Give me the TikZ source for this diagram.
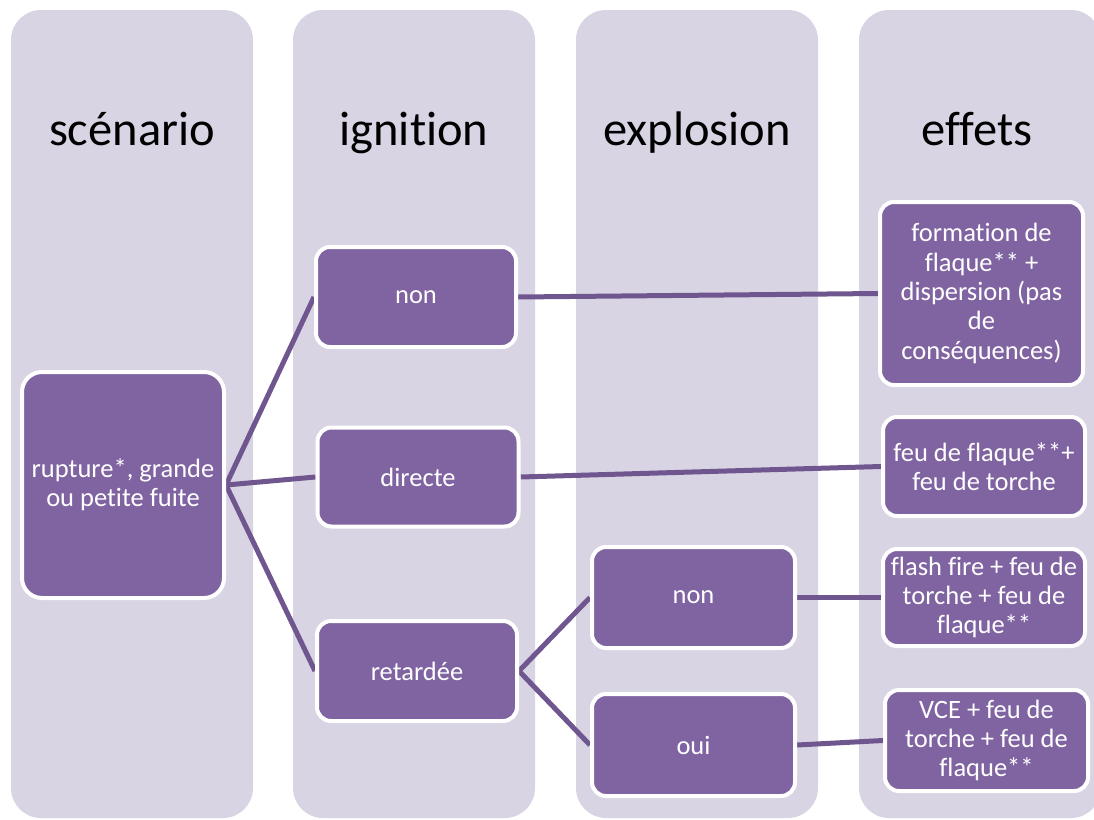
\documentclass[tikz,border=0pt]{standalone}
\usepackage{fontspec}
\setmainfont{Carlito}[Ligatures=CommonOff]
\definecolor{lanefill}{HTML}{D8D4E3}
\definecolor{boxfill}{HTML}{8064A2}
\definecolor{linkcol}{HTML}{70568F}
\pgfdeclarelayer{lanes}
\pgfdeclarelayer{links}
\pgfsetlayers{lanes,links,main}
\begin{document}
\begin{tikzpicture}[x=1pt,y=-1pt,
  lane/.style={fill=lanefill, rounded corners=30pt},
  head/.style={anchor=base, font=\fontsize{48.5}{56}\selectfont, text=black},
  box/.style={draw=white, line width=4pt, fill=boxfill, rounded corners=14pt,
    text=white, font=\fontsize{26.5}{29.3}\selectfont, align=center, inner sep=0pt},
  link/.style={draw=linkcol, line width=5pt}]
\useasboundingbox (0,0) rectangle (1094,819);

% columns
\begin{pgfonlayer}{lanes}
  \fill[lane] (11,10) rectangle (253,818);
  \fill[lane] (293,10) rectangle (535,818);
  \fill[lane] (576,10) rectangle (818,818);
  \fill[lane] (859,10) rectangle (1101,818);
\end{pgfonlayer}

% column headings
\node[head] (h1) at (132,145) {scénario};
\node[head] (h2) at (414,145) {ignition};
\node[head] (h3) at (697,145) {explosion};
\node[head] (h4) at (977,145) {effets};

% boxes
\node[box, minimum width=202pt, minimum height=226pt, rounded corners=20pt] (root) at (123,485)
  {rupture*, grande\\ou petite fuite};
\node[box, minimum width=200pt, minimum height=100pt] (ign1) at (416,297) {non};
\node[box, minimum width=201pt, minimum height=99pt] (ign2) at (418,477) {directe};
\node[box, minimum width=200pt, minimum height=100pt] (ign3) at (417,671) {retardée};
\node[box, minimum width=203pt, minimum height=101pt] (exp1) at (693.5,597.5) {non};
\node[box, minimum width=203pt, minimum height=102pt] (exp2) at (693.5,745) {oui};
\node[box, minimum width=203pt, minimum height=183pt] (eff1) at (981.5,293.5)
  {formation de\\flaque** +\\dispersion (pas\\de\\conséquences)};
\node[box, minimum width=202pt, minimum height=99pt] (eff2) at (984,466.5)
  {feu de flaque**+\\feu de torche};
\node[box, minimum width=202pt, minimum height=97pt] (eff3) at (984,597.5)
  {flash fire + feu de\\torche + feu de\\flaque**};
\node[box, minimum width=203pt, minimum height=101pt] (eff4) at (986.5,740.5)
  {VCE + feu de\\torche + feu de\\flaque**};

% connectors
\begin{pgfonlayer}{links}
  \draw[link] (root.east) -- (ign1.west);
  \draw[link] (root.east) -- (ign2.west);
  \draw[link] (root.east) -- (ign3.west);
  \draw[link] (ign1.east) -- (eff1.west);
  \draw[link] (ign2.east) -- (eff2.west);
  \draw[link] (ign3.east) -- (exp1.west);
  \draw[link] (ign3.east) -- (exp2.west);
  \draw[link] (exp1.east) -- (eff3.west);
  \draw[link] (exp2.east) -- (eff4.west);
\end{pgfonlayer}
\end{tikzpicture}
\end{document}
